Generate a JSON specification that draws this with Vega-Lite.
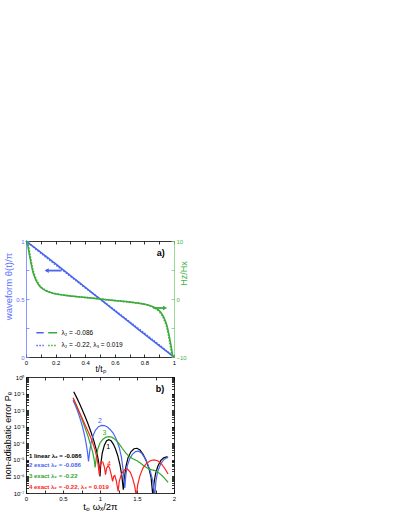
{
"$schema":"https://vega.github.io/schema/vega-lite/v6.json",
"background":"white",
"padding":{"left":2,"top":237,"right":0,"bottom":0},
"config":{"font":"Liberation Sans","view":{"stroke":null},
 "axis":{"grid":false,"tickSize":-3,"labelPadding":5,"labelFontSize":6,"tickWidth":0.8,"domainWidth":0.8,"labelFlush":false,"labelOverlap":false,"titleFontWeight":"normal","labelFont":"Liberation Sans","titleFont":"Liberation Sans"}},
"datasets":{
"theta":[
{"t":0,"theta":1,"s":"A"},{"t":0.1,"theta":0.902,"s":"A"},{"t":0.2,"theta":0.803,"s":"A"},{"t":0.3,"theta":0.702,"s":"A"},{"t":0.4,"theta":0.601,"s":"A"},{"t":0.5,"theta":0.5,"s":"A"},{"t":0.6,"theta":0.399,"s":"A"},{"t":0.7,"theta":0.298,"s":"A"},{"t":0.8,"theta":0.197,"s":"A"},{"t":0.9,"theta":0.098,"s":"A"},{"t":1,"theta":0,"s":"A"},
{"t":0,"theta":1,"s":"B"},{"t":0.1,"theta":0.896,"s":"B"},{"t":0.2,"theta":0.795,"s":"B"},{"t":0.3,"theta":0.696,"s":"B"},{"t":0.4,"theta":0.597,"s":"B"},{"t":0.5,"theta":0.5,"s":"B"},{"t":0.6,"theta":0.403,"s":"B"},{"t":0.7,"theta":0.304,"s":"B"},{"t":0.8,"theta":0.205,"s":"B"},{"t":0.9,"theta":0.104,"s":"B"},{"t":1,"theta":0,"s":"B"}],
"hz":[
{"t":0,"H":12,"s":"A"},{"t":0.008,"H":10,"s":"A"},{"t":0.014,"H":9.0,"s":"A"},{"t":0.02,"H":8.1,"s":"A"},{"t":0.027,"H":7.1,"s":"A"},{"t":0.034,"H":6.2,"s":"A"},{"t":0.042,"H":5.2,"s":"A"},{"t":0.05,"H":4.4,"s":"A"},{"t":0.06,"H":3.7,"s":"A"},{"t":0.07,"H":3.1,"s":"A"},{"t":0.08,"H":2.65,"s":"A"},{"t":0.09,"H":2.3,"s":"A"},{"t":0.1,"H":2.0,"s":"A"},{"t":0.115,"H":1.7,"s":"A"},{"t":0.13,"H":1.48,"s":"A"},{"t":0.15,"H":1.25,"s":"A"},{"t":0.18,"H":1.0,"s":"A"},{"t":0.21,"H":0.84,"s":"A"},{"t":0.25,"H":0.68,"s":"A"},{"t":0.3,"H":0.52,"s":"A"},{"t":0.35,"H":0.39,"s":"A"},{"t":0.4,"H":0.27,"s":"A"},{"t":0.45,"H":0.14,"s":"A"},{"t":0.5,"H":0,"s":"A"},{"t":0.55,"H":-0.14,"s":"A"},{"t":0.6,"H":-0.27,"s":"A"},{"t":0.65,"H":-0.39,"s":"A"},{"t":0.7,"H":-0.52,"s":"A"},{"t":0.75,"H":-0.68,"s":"A"},{"t":0.79,"H":-0.84,"s":"A"},{"t":0.82,"H":-1.0,"s":"A"},{"t":0.85,"H":-1.25,"s":"A"},{"t":0.87,"H":-1.48,"s":"A"},{"t":0.885,"H":-1.7,"s":"A"},{"t":0.9,"H":-2.0,"s":"A"},{"t":0.91,"H":-2.3,"s":"A"},{"t":0.92,"H":-2.65,"s":"A"},{"t":0.93,"H":-3.1,"s":"A"},{"t":0.94,"H":-3.7,"s":"A"},{"t":0.95,"H":-4.4,"s":"A"},{"t":0.958,"H":-5.2,"s":"A"},{"t":0.966,"H":-6.2,"s":"A"},{"t":0.973,"H":-7.1,"s":"A"},{"t":0.98,"H":-8.1,"s":"A"},{"t":0.986,"H":-9.0,"s":"A"},{"t":0.992,"H":-10,"s":"A"},{"t":1,"H":-12,"s":"A"},
{"t":0,"H":13,"s":"B"},{"t":0.008,"H":10.8,"s":"B"},{"t":0.014,"H":9.7,"s":"B"},{"t":0.02,"H":8.75,"s":"B"},{"t":0.027,"H":7.7,"s":"B"},{"t":0.034,"H":6.7,"s":"B"},{"t":0.042,"H":5.6,"s":"B"},{"t":0.05,"H":4.75,"s":"B"},{"t":0.06,"H":4.0,"s":"B"},{"t":0.07,"H":3.35,"s":"B"},{"t":0.08,"H":2.85,"s":"B"},{"t":0.09,"H":2.45,"s":"B"},{"t":0.1,"H":2.12,"s":"B"},{"t":0.115,"H":1.8,"s":"B"},{"t":0.13,"H":1.55,"s":"B"},{"t":0.15,"H":1.3,"s":"B"},{"t":0.18,"H":1.03,"s":"B"},{"t":0.21,"H":0.86,"s":"B"},{"t":0.25,"H":0.69,"s":"B"},{"t":0.3,"H":0.52,"s":"B"},{"t":0.35,"H":0.39,"s":"B"},{"t":0.4,"H":0.27,"s":"B"},{"t":0.45,"H":0.14,"s":"B"},{"t":0.5,"H":0,"s":"B"},{"t":0.55,"H":-0.14,"s":"B"},{"t":0.6,"H":-0.27,"s":"B"},{"t":0.65,"H":-0.39,"s":"B"},{"t":0.7,"H":-0.52,"s":"B"},{"t":0.75,"H":-0.69,"s":"B"},{"t":0.79,"H":-0.86,"s":"B"},{"t":0.82,"H":-1.03,"s":"B"},{"t":0.85,"H":-1.3,"s":"B"},{"t":0.87,"H":-1.55,"s":"B"},{"t":0.885,"H":-1.8,"s":"B"},{"t":0.9,"H":-2.12,"s":"B"},{"t":0.91,"H":-2.45,"s":"B"},{"t":0.92,"H":-2.85,"s":"B"},{"t":0.93,"H":-3.35,"s":"B"},{"t":0.94,"H":-4.0,"s":"B"},{"t":0.95,"H":-4.75,"s":"B"},{"t":0.958,"H":-5.6,"s":"B"},{"t":0.966,"H":-6.7,"s":"B"},{"t":0.973,"H":-7.7,"s":"B"},{"t":0.98,"H":-8.75,"s":"B"},{"t":0.986,"H":-9.7,"s":"B"},{"t":0.992,"H":-10.8,"s":"B"},{"t":1,"H":-13,"s":"B"}],
"pe":[
{"x":0.645,"lp":-0.89,"c":"1"},{"x":0.68,"lp":-1.2,"c":"1"},{"x":0.72,"lp":-1.57,"c":"1"},{"x":0.76,"lp":-1.97,"c":"1"},{"x":0.8,"lp":-2.4,"c":"1"},{"x":0.84,"lp":-2.85,"c":"1"},{"x":0.88,"lp":-3.35,"c":"1"},{"x":0.92,"lp":-3.9,"c":"1"},{"x":0.95,"lp":-4.4,"c":"1"},{"x":0.975,"lp":-4.95,"c":"1"},{"x":0.99,"lp":-5.4,"c":"1"},{"x":1.0,"lp":-6.0,"c":"1"},{"x":1.01,"lp":-5.3,"c":"1"},{"x":1.03,"lp":-4.6,"c":"1"},{"x":1.06,"lp":-4.1,"c":"1"},{"x":1.09,"lp":-3.85,"c":"1"},{"x":1.12,"lp":-3.78,"c":"1"},{"x":1.15,"lp":-3.85,"c":"1"},{"x":1.18,"lp":-4.05,"c":"1"},{"x":1.21,"lp":-4.35,"c":"1"},{"x":1.24,"lp":-4.75,"c":"1"},{"x":1.27,"lp":-5.3,"c":"1"},{"x":1.295,"lp":-5.95,"c":"1"},{"x":1.315,"lp":-6.8,"c":"1"},{"x":1.33,"lp":-6.1,"c":"1"},{"x":1.35,"lp":-5.4,"c":"1"},{"x":1.38,"lp":-4.85,"c":"1"},{"x":1.42,"lp":-4.5,"c":"1"},{"x":1.46,"lp":-4.33,"c":"1"},{"x":1.5,"lp":-4.3,"c":"1"},{"x":1.54,"lp":-4.4,"c":"1"},{"x":1.58,"lp":-4.65,"c":"1"},{"x":1.62,"lp":-5.0,"c":"1"},{"x":1.66,"lp":-5.5,"c":"1"},{"x":1.69,"lp":-6.05,"c":"1"},{"x":1.715,"lp":-7.2,"c":"1"},{"x":1.73,"lp":-6.4,"c":"1"},{"x":1.75,"lp":-5.85,"c":"1"},{"x":1.78,"lp":-5.4,"c":"1"},{"x":1.82,"lp":-5.05,"c":"1"},{"x":1.86,"lp":-4.88,"c":"1"},{"x":1.9,"lp":-4.82,"c":"1"},{"x":1.92,"lp":-4.85,"c":"1"},
{"x":0.635,"lp":-1.4,"c":"2"},{"x":0.67,"lp":-1.75,"c":"2"},{"x":0.7,"lp":-2.1,"c":"2"},{"x":0.73,"lp":-2.5,"c":"2"},{"x":0.76,"lp":-2.95,"c":"2"},{"x":0.79,"lp":-3.5,"c":"2"},{"x":0.81,"lp":-3.95,"c":"2"},{"x":0.83,"lp":-4.5,"c":"2"},{"x":0.845,"lp":-5.1,"c":"2"},{"x":0.86,"lp":-4.5,"c":"2"},{"x":0.88,"lp":-3.95,"c":"2"},{"x":0.91,"lp":-3.5,"c":"2"},{"x":0.94,"lp":-3.2,"c":"2"},{"x":0.98,"lp":-3.0,"c":"2"},{"x":1.02,"lp":-2.92,"c":"2"},{"x":1.06,"lp":-2.93,"c":"2"},{"x":1.1,"lp":-3.02,"c":"2"},{"x":1.14,"lp":-3.18,"c":"2"},{"x":1.18,"lp":-3.4,"c":"2"},{"x":1.22,"lp":-3.75,"c":"2"},{"x":1.26,"lp":-4.25,"c":"2"},{"x":1.29,"lp":-4.85,"c":"2"},{"x":1.315,"lp":-5.7,"c":"2"},{"x":1.335,"lp":-6.7,"c":"2"},{"x":1.35,"lp":-5.9,"c":"2"},{"x":1.37,"lp":-5.35,"c":"2"},{"x":1.4,"lp":-4.95,"c":"2"},{"x":1.44,"lp":-4.65,"c":"2"},{"x":1.48,"lp":-4.5,"c":"2"},{"x":1.52,"lp":-4.48,"c":"2"},{"x":1.56,"lp":-4.58,"c":"2"},{"x":1.6,"lp":-4.85,"c":"2"},{"x":1.64,"lp":-5.2,"c":"2"},{"x":1.68,"lp":-5.7,"c":"2"},{"x":1.71,"lp":-6.2,"c":"2"},{"x":1.74,"lp":-7.2,"c":"2"},{"x":1.755,"lp":-6.3,"c":"2"},{"x":1.78,"lp":-5.7,"c":"2"},{"x":1.82,"lp":-5.25,"c":"2"},{"x":1.86,"lp":-5.0,"c":"2"},{"x":1.9,"lp":-4.88,"c":"2"},{"x":1.92,"lp":-4.87,"c":"2"},
{"x":0.645,"lp":-1.35,"c":"3"},{"x":0.68,"lp":-1.7,"c":"3"},{"x":0.72,"lp":-2.15,"c":"3"},{"x":0.76,"lp":-2.6,"c":"3"},{"x":0.8,"lp":-3.1,"c":"3"},{"x":0.84,"lp":-3.6,"c":"3"},{"x":0.87,"lp":-4.05,"c":"3"},{"x":0.9,"lp":-4.5,"c":"3"},{"x":0.92,"lp":-4.95,"c":"3"},{"x":0.935,"lp":-5.45,"c":"3"},{"x":0.95,"lp":-4.85,"c":"3"},{"x":0.97,"lp":-4.35,"c":"3"},{"x":1.0,"lp":-3.98,"c":"3"},{"x":1.04,"lp":-3.75,"c":"3"},{"x":1.08,"lp":-3.63,"c":"3"},{"x":1.12,"lp":-3.6,"c":"3"},{"x":1.16,"lp":-3.63,"c":"3"},{"x":1.2,"lp":-3.75,"c":"3"},{"x":1.25,"lp":-3.98,"c":"3"},{"x":1.3,"lp":-4.3,"c":"3"},{"x":1.35,"lp":-4.6,"c":"3"},{"x":1.4,"lp":-4.82,"c":"3"},{"x":1.45,"lp":-4.95,"c":"3"},{"x":1.5,"lp":-5.05,"c":"3"},{"x":1.55,"lp":-5.2,"c":"3"},{"x":1.6,"lp":-5.38,"c":"3"},{"x":1.65,"lp":-5.52,"c":"3"},{"x":1.7,"lp":-5.6,"c":"3"},{"x":1.75,"lp":-5.65,"c":"3"},{"x":1.8,"lp":-5.8,"c":"3"},{"x":1.85,"lp":-6.0,"c":"3"},{"x":1.9,"lp":-6.25,"c":"3"},{"x":1.92,"lp":-6.35,"c":"3"},
{"x":0.635,"lp":-1.25,"c":"4"},{"x":0.67,"lp":-1.6,"c":"4"},{"x":0.71,"lp":-2.0,"c":"4"},{"x":0.75,"lp":-2.4,"c":"4"},{"x":0.79,"lp":-2.8,"c":"4"},{"x":0.83,"lp":-3.2,"c":"4"},{"x":0.87,"lp":-3.6,"c":"4"},{"x":0.9,"lp":-3.95,"c":"4"},{"x":0.93,"lp":-4.35,"c":"4"},{"x":0.955,"lp":-4.8,"c":"4"},{"x":0.975,"lp":-5.3,"c":"4"},{"x":0.99,"lp":-5.9,"c":"4"},{"x":1.0,"lp":-5.4,"c":"4"},{"x":1.02,"lp":-5.1,"c":"4"},{"x":1.04,"lp":-5.15,"c":"4"},{"x":1.06,"lp":-5.45,"c":"4"},{"x":1.075,"lp":-5.9,"c":"4"},{"x":1.09,"lp":-5.5,"c":"4"},{"x":1.11,"lp":-5.35,"c":"4"},{"x":1.13,"lp":-5.5,"c":"4"},{"x":1.155,"lp":-5.95,"c":"4"},{"x":1.17,"lp":-6.3,"c":"4"},{"x":1.185,"lp":-6.0,"c":"4"},{"x":1.2,"lp":-5.95,"c":"4"},{"x":1.22,"lp":-6.25,"c":"4"},{"x":1.245,"lp":-6.9,"c":"4"},{"x":1.26,"lp":-6.3,"c":"4"},{"x":1.29,"lp":-5.85,"c":"4"},{"x":1.33,"lp":-5.6,"c":"4"},{"x":1.37,"lp":-5.55,"c":"4"},{"x":1.41,"lp":-5.75,"c":"4"},{"x":1.44,"lp":-6.1,"c":"4"},{"x":1.47,"lp":-6.6,"c":"4"},{"x":1.49,"lp":-7.2,"c":"4"},{"x":1.51,"lp":-6.5,"c":"4"},{"x":1.54,"lp":-5.95,"c":"4"},{"x":1.58,"lp":-5.5,"c":"4"},{"x":1.63,"lp":-5.2,"c":"4"},{"x":1.68,"lp":-5.05,"c":"4"},{"x":1.73,"lp":-5.0,"c":"4"},{"x":1.78,"lp":-5.05,"c":"4"},{"x":1.83,"lp":-5.25,"c":"4"},{"x":1.88,"lp":-5.55,"c":"4"},{"x":1.92,"lp":-5.85,"c":"4"}]
},
"vconcat":[
{"width":148,"height":116,
 "layer":[
    {"data":{"name":"theta"},"mark":{"type":"line","color":"#4a66f0","strokeWidth":1.6},
     "encoding":{
      "x":{"field":"t","type":"quantitative","scale":{"domain":[0,1],"nice":false},
        "axis":{"orient":"bottom","values":[0,0.1,0.2,0.3,0.4,0.5,0.6,0.7,0.8,0.9,1],"format":"~g","labelExpr":"round(datum.value*10) % 2 == 0 ? datum.label : ''","title":"t/tₚ","titleFontSize":8.5,"titleY":7,"titleBaseline":"top","domainColor":"#000","tickColor":"#000","labelColor":"#000","titleColor":"#000"}},
      "y":{"field":"theta","type":"quantitative","scale":{"domain":[0,1],"nice":false},
        "axis":{"orient":"left","values":[0,0.25,0.5,0.75,1],"format":"~g","labelExpr":"round(datum.value*4) % 2 == 0 ? datum.label : ''","title":"waveform θ(t)/π","titleFontSize":9.5,"titleAngle":270,"titleX":-23,"titleY":45,"titleBaseline":"top","titleColor":"#5b70ff","domainColor":"#6b7cff","tickColor":"#6b7cff","labelColor":"#5b70ff"}},
      "strokeDash":{"field":"s","type":"nominal","scale":{"domain":["A","B"],"range":[[1,0],[1.5,1.5]]},"legend":null}}},
    {"data":{"values":[{"x1":0.07,"x2":0.12,"y":0.21,"c":"b","s":"A"},{"x1":0.15,"x2":0.21,"y":0.21,"c":"g","s":"A"},{"x1":0.07,"x2":0.12,"y":0.1,"c":"b","s":"B"},{"x1":0.15,"x2":0.21,"y":0.1,"c":"g","s":"B"}]},
     "mark":{"type":"rule","strokeWidth":1.5},
     "encoding":{"x":{"field":"x1","type":"quantitative","axis":null},"x2":{"field":"x2"},"y":{"field":"y","type":"quantitative","scale":{"domain":[0,1],"nice":false},"axis":null},
      "color":{"field":"c","type":"nominal","scale":{"domain":["b","g"],"range":["#4a66f0","#3cab3c"]},"legend":null},
      "strokeDash":{"field":"s","type":"nominal","legend":null}}},
    {"data":{"values":[{"x":0.24,"y":0.21,"label":"λ₂ = -0.086"},{"x":0.24,"y":0.1,"label":"λ₂ = -0.22, λ₃ = 0.019"}]},
     "mark":{"type":"text","align":"left","baseline":"middle","fontSize":6.5,"color":"#000"},
     "encoding":{"x":{"field":"x","type":"quantitative","axis":null},"y":{"field":"y","type":"quantitative","scale":{"domain":[0,1],"nice":false},"axis":null},"text":{"field":"label"}}},
    {"data":{"values":[{"x1":0.135,"x2":0.24,"y":0.745}]},
     "mark":{"type":"rule","strokeWidth":1.8,"color":"#4a66f0"},
     "encoding":{"x":{"field":"x1","type":"quantitative","axis":null},"x2":{"field":"x2"},"y":{"field":"y","type":"quantitative","scale":{"domain":[0,1],"nice":false},"axis":null}}},
    {"data":{"values":[{"x":0.14,"y":0.745}]},
     "mark":{"type":"point","shape":"triangle-left","filled":true,"size":22,"color":"#4a66f0","opacity":1},
     "encoding":{"x":{"field":"x","type":"quantitative","axis":null},"y":{"field":"y","type":"quantitative","scale":{"domain":[0,1],"nice":false},"axis":null}}},
    {"data":{"values":[{"x":0.91,"y":0.9,"label":"a)"}]},
     "mark":{"type":"text","align":"center","baseline":"middle","fontSize":9,"fontWeight":"bold","color":"#000"},
     "encoding":{"x":{"field":"x","type":"quantitative","axis":null},"y":{"field":"y","type":"quantitative","scale":{"domain":[0,1],"nice":false},"axis":null},"text":{"field":"label"}}},
    {"data":{"name":"hz"},"mark":{"type":"line","color":"#3cab3c","strokeWidth":1.6,"clip":true},
     "encoding":{
      "x":{"field":"t","type":"quantitative","scale":{"domain":[0,1],"nice":false},"axis":null},
      "y":{"field":"H","type":"quantitative","scale":{"domain":[-10,10],"nice":false},
        "axis":{"orient":"right","values":[-10,-5,0,5,10],"format":"d","labelExpr":"datum.value % 10 == 0 ? datum.label : ''","title":"Hz/Hx","titleFontSize":9,"titleAngle":270,"titleX":5,"titleY":32,"titleBaseline":"top","titleColor":"#44b444","domainColor":"#7ccf7c","tickColor":"#7ccf7c","labelColor":"#44b444"}},
      "strokeDash":{"field":"s","type":"nominal","legend":null}}},
    {"data":{"values":[{"x1":0.86,"x2":0.94,"y":-1.55}]},
     "mark":{"type":"rule","strokeWidth":1.8,"color":"#3cab3c"},
     "encoding":{"x":{"field":"x1","type":"quantitative","axis":null},"x2":{"field":"x2"},"y":{"field":"y","type":"quantitative","scale":{"domain":[-10,10],"nice":false},"axis":null}}},
    {"data":{"values":[{"x":0.94,"y":-1.55}]},
     "mark":{"type":"point","shape":"triangle-right","filled":true,"size":22,"color":"#3cab3c","opacity":1},
     "encoding":{"x":{"field":"x","type":"quantitative","axis":null},"y":{"field":"y","type":"quantitative","scale":{"domain":[-10,10],"nice":false},"axis":null}}},
    {"data":{"values":[{"t":0}]},"mark":{"type":"rule","opacity":0},
     "encoding":{"x":{"field":"t","type":"quantitative","scale":{"domain":[0,1],"nice":false},
      "axis":{"orient":"top","values":[0,0.1,0.2,0.3,0.4,0.5,0.6,0.7,0.8,0.9,1],"labels":false,"title":null,"domainColor":"#000","tickColor":"#000"}}}}
 ],
 "resolve":{"scale":{"y":"independent"},"axis":{"x":"independent","y":"independent"}}
},
{"width":148,"height":116,
 "layer":[
    {"data":{"name":"pe"},"mark":{"type":"line","strokeWidth":1.2,"clip":true},
     "encoding":{
      "x":{"field":"x","type":"quantitative","scale":{"domain":[0,2],"nice":false},
        "axis":{"orient":"bottom","values":[0,0.25,0.5,0.75,1,1.25,1.5,1.75,2],"format":"~g","labelExpr":"round(datum.value*4) % 2 == 0 ? datum.label : ''","title":"tₚ ωₓ/2π","titleFontSize":9.5,"titleY":8.5,"titleBaseline":"top","domainColor":"#000","tickColor":"#000","labelColor":"#000","titleColor":"#000"}},
      "y":{"field":"lp","type":"quantitative","scale":{"domain":[-7,0],"nice":false},
        "axis":{"orient":"left","values":[-7,-6.699,-6.523,-6.398,-6.301,-6.222,-6.155,-6.097,-6.046,-6,-5.699,-5.523,-5.398,-5.301,-5.222,-5.155,-5.097,-5.046,-5,-4.699,-4.523,-4.398,-4.301,-4.222,-4.155,-4.097,-4.046,-4,-3.699,-3.523,-3.398,-3.301,-3.222,-3.155,-3.097,-3.046,-3,-2.699,-2.523,-2.398,-2.301,-2.222,-2.155,-2.097,-2.046,-2,-1.699,-1.523,-1.398,-1.301,-1.222,-1.155,-1.097,-1.046,-1,-0.699,-0.523,-0.398,-0.301,-0.222,-0.155,-0.097,-0.046,0],
         "labelExpr":"datum.value == round(datum.value) ? '10' + (datum.value == 0 ? '⁰' : '⁻' + ['⁰','¹','²','³','⁴','⁵','⁶','⁷'][-datum.value]) : ''","tickSize":-2.5,"labelPadding":4.5,
         "title":"non-adiabatic error Pₑ","titleFontSize":9,"titleAngle":270,"titleX":-23,"titleBaseline":"top","titleColor":"#000","domainColor":"#000","tickColor":"#000","labelColor":"#000"}},
      "color":{"field":"c","type":"nominal","scale":{"domain":["1","2","3","4"],"range":["#000000","#4a66f0","#2ea82e","#ff2020"]},"legend":null}}},
    {"data":{"values":[{"x":0.04,"y":-4.74,"label":"1 linear λ₂ = -0.086","c":"1"},{"x":0.04,"y":-5.34,"label":"2 exact λ₂ = -0.086","c":"2"},{"x":0.04,"y":-5.97,"label":"3 exact λ₂ = -0.22","c":"3"},{"x":0.04,"y":-6.61,"label":"4 exact λ₂ = -0.22, λ₃ = 0.019","c":"4"}]},
     "mark":{"type":"text","align":"left","baseline":"middle","fontSize":6,"fontWeight":"bold"},
     "encoding":{"x":{"field":"x","type":"quantitative","axis":null},"y":{"field":"y","type":"quantitative","axis":null},"text":{"field":"label"},"color":{"field":"c","type":"nominal","legend":null}}},
    {"data":{"values":[{"x":1.0,"y":-2.68,"label":"2","c":"2"},{"x":1.06,"y":-3.38,"label":"3","c":"3"},{"x":1.11,"y":-4.2,"label":"1","c":"1"},{"x":1.12,"y":-5.22,"label":"4","c":"4"}]},
     "mark":{"type":"text","align":"center","baseline":"middle","fontSize":7},
     "encoding":{"x":{"field":"x","type":"quantitative","axis":null},"y":{"field":"y","type":"quantitative","axis":null},"text":{"field":"label"},"color":{"field":"c","type":"nominal","legend":null}}},
    {"data":{"values":[{"x":1.81,"y":-0.75,"label":"b)"}]},
     "mark":{"type":"text","align":"center","baseline":"middle","fontSize":9,"fontWeight":"bold","color":"#000"},
     "encoding":{"x":{"field":"x","type":"quantitative","axis":null},"y":{"field":"y","type":"quantitative","axis":null},"text":{"field":"label"}}},
    {"data":{"values":[{"x":0,"lp":0}]},"mark":{"type":"point","opacity":0},
     "encoding":{
      "x":{"field":"x","type":"quantitative","scale":{"domain":[0,2],"nice":false},
        "axis":{"orient":"top","values":[0,0.25,0.5,0.75,1,1.25,1.5,1.75,2],"labels":false,"title":null,"domainColor":"#000","tickColor":"#000"}},
      "y":{"field":"lp","type":"quantitative","scale":{"domain":[-7,0],"nice":false},
        "axis":{"orient":"right","values":[-7,-6.699,-6.523,-6.398,-6.301,-6.222,-6.155,-6.097,-6.046,-6,-5.699,-5.523,-5.398,-5.301,-5.222,-5.155,-5.097,-5.046,-5,-4.699,-4.523,-4.398,-4.301,-4.222,-4.155,-4.097,-4.046,-4,-3.699,-3.523,-3.398,-3.301,-3.222,-3.155,-3.097,-3.046,-3,-2.699,-2.523,-2.398,-2.301,-2.222,-2.155,-2.097,-2.046,-2,-1.699,-1.523,-1.398,-1.301,-1.222,-1.155,-1.097,-1.046,-1,-0.699,-0.523,-0.398,-0.301,-0.222,-0.155,-0.097,-0.046,0],"labels":false,"title":null,"tickSize":-2.5,"domainColor":"#000","tickColor":"#000"}}}}
 ],
 "resolve":{"axis":{"x":"independent","y":"independent"}}
}
],
"resolve":{"scale":{"color":"independent","strokeDash":"independent"}},
"spacing":20,
"bounds":"flush"
}
